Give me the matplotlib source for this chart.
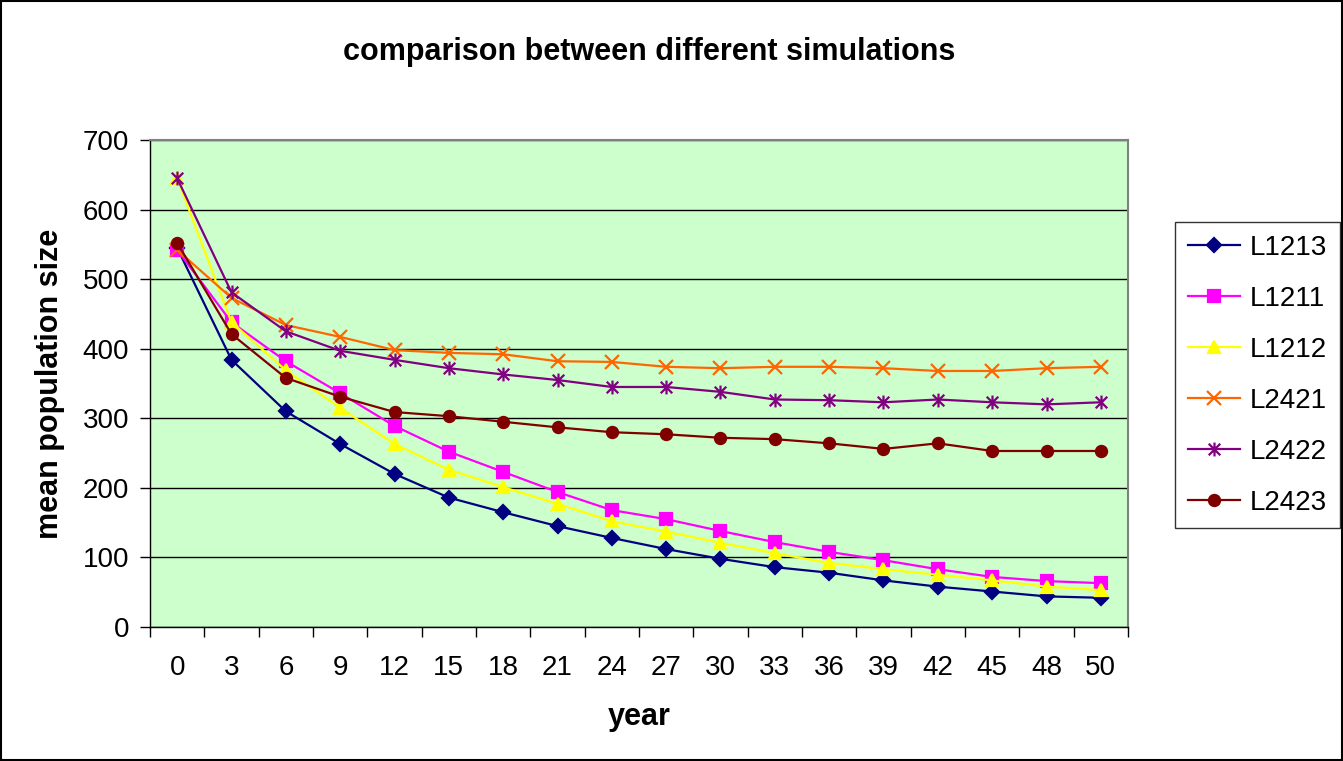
import numpy as np
import matplotlib
matplotlib.use('Agg')
import matplotlib.pyplot as plt
from matplotlib.path import Path
from matplotlib.patches import Rectangle

plt.rcParams['font.family'] = ['Liberation Sans', 'DejaVu Sans']

# Дані
years = ['0', '3', '6', '9', '12', '15', '18', '21', '24', '27', '30', '33', '36', '39', '42', '45', '48', '50']
l1213 = [545, 384, 310, 263, 220, 186, 165, 145, 128, 112, 98, 86, 78, 67, 58, 51, 44, 42]
l1211 = [542, 438, 382, 336, 289, 252, 223, 194, 168, 155, 138, 122, 108, 96, 83, 72, 66, 63]
l1212 = [645, 438, 369, 315, 263, 226, 201, 177, 152, 137, 121, 106, 92, 83, 75, 67, 58, 53]
l2421 = [542, 473, 434, 417, 398, 394, 392, 382, 381, 374, 372, 374, 374, 372, 368, 368, 372, 374]
l2422 = [645, 481, 425, 397, 384, 372, 363, 355, 345, 345, 338, 327, 326, 323, 327, 323, 320, 323]
l2423 = [552, 421, 358, 331, 309, 303, 295, 287, 280, 277, 272, 270, 264, 256, 264, 253, 253, 253]

names = ['L1213', 'L1211', 'L1212', 'L2421', 'L2422', 'L2423']
series = [l1213, l1211, l1212, l2421, l2422, l2423]
colors = ['#000080', '#FF00FF', '#FFFF00', '#FF6600', '#800080', '#800000']

# Зірочка як у Excel: хрест плюс вертикальна риска
star = Path([(-1, -1), (1, 1), (-1, 1), (1, -1), (0, -1.2), (0, 1.2)],
            [Path.MOVETO, Path.LINETO, Path.MOVETO, Path.LINETO, Path.MOVETO, Path.LINETO])
markers = ['D', 's', '^', 'x', star, 'o']
msizes = [7, 8, 9, 10, 10, 8]

fig = plt.figure(figsize=(13.43, 7.61), dpi=100)
ax = fig.add_axes([150 / 1343, 134 / 761, 978 / 1343, 487 / 761])
ax.set_facecolor('#CCFFCC')

x = np.arange(len(years))
for name, vals, c, m, ms in zip(names, series, colors, markers, msizes):
    ax.plot(x, vals, color=c, lw=1.6, marker=m, markersize=ms,
            markerfacecolor=c, markeredgecolor=c, markeredgewidth=1.6, label=name)

ax.set_xlim(-0.5, len(years) - 0.5)
ax.set_ylim(0, 700)
ax.set_yticks(np.arange(0, 701, 100))
ax.set_xticks(x)
ax.set_xticklabels(years)
ax.set_xticks(np.arange(-0.5, len(years), 1), minor=True)
ax.tick_params(axis='x', which='major', length=0, labelsize=20, pad=20)
ax.tick_params(axis='x', which='minor', length=7, width=1, direction='out')
ax.tick_params(axis='y', length=7, width=1, direction='out', labelsize=20, pad=8)
ax.grid(axis='y', color='black', lw=1)
ax.set_axisbelow(True)

for s in ['top', 'right']:
    ax.spines[s].set_color('#808080')
    ax.spines[s].set_linewidth(1.5)
for s in ['left', 'bottom']:
    ax.spines[s].set_color('black')
    ax.spines[s].set_linewidth(1)

ax.set_ylabel('mean population size', fontsize=22, fontweight='bold')
ax.yaxis.set_label_coords(-0.087, 0.5)
ax.set_xlabel('year', fontsize=22, fontweight='bold')
ax.xaxis.set_label_coords(0.5, -0.155)

fig.text(649 / 1343, 1 - 52 / 761, 'comparison between different simulations',
         fontsize=22, fontweight='bold', ha='center', va='center')

leg = fig.legend(loc='upper left', bbox_to_anchor=(1175 / 1343, 1 - 222 / 761),
                 fontsize=20, frameon=True, fancybox=False, borderaxespad=0,
                 handlelength=1.9, labelspacing=0.9, borderpad=0.45, handletextpad=0.35)
leg.get_frame().set_edgecolor('black')
leg.get_frame().set_linewidth(1)

# Рамка навколо всього рисунка
fig.patches.append(Rectangle((0.001, 0.001), 0.998, 0.998, transform=fig.transFigure,
                             fill=False, edgecolor='black', lw=1.5))

fig.savefig('out.png', dpi=100)
